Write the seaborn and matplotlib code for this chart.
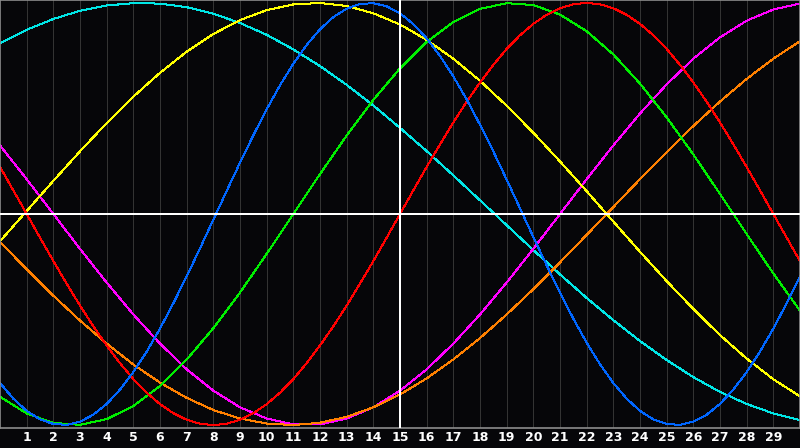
import pandas as pd
import seaborn as sns
import matplotlib.pyplot as plt

# --- data ---
days = list(range(0, 31))                     # whole days 0..30
half_days = [i / 2 for i in range(0, 61)]     # 0, 0.5, ... 30 for the faster cycles
tick_days = list(range(1, 30))

blue = [-0.801, -0.875, -0.933, -0.973, -0.995, -0.999, -0.984, -0.951, -0.900, -0.832,
        -0.749, -0.652, -0.543, -0.423, -0.296, -0.163, -0.027, 0.109, 0.243, 0.373,
        0.496, 0.610, 0.712, 0.801, 0.875, 0.933, 0.973, 0.995, 0.999, 0.984,
        0.951, 0.900, 0.832, 0.749, 0.652, 0.543, 0.423, 0.296, 0.163, 0.027,
        -0.109, -0.243, -0.373, -0.496, -0.610, -0.712, -0.801, -0.875, -0.933, -0.973,
        -0.995, -0.999, -0.984, -0.951, -0.900, -0.832, -0.749, -0.652, -0.543, -0.423,
        -0.296]
red = [0.223, 0.112, 0.0, -0.112, -0.223, -0.330, -0.434, -0.532, -0.623, -0.707,
       -0.782, -0.847, -0.901, -0.944, -0.975, -0.994, -1.0, -0.994, -0.975, -0.944,
       -0.901, -0.847, -0.782, -0.707, -0.623, -0.532, -0.434, -0.330, -0.223, -0.112,
       0.0, 0.112, 0.223, 0.330, 0.434, 0.532, 0.623, 0.707, 0.782, 0.847,
       0.901, 0.944, 0.975, 0.994, 1.0, 0.994, 0.975, 0.944, 0.901, 0.847,
       0.782, 0.707, 0.623, 0.532, 0.434, 0.330, 0.223, 0.112, 0.0, -0.112,
       -0.223]
green = [-0.866, -0.945, -0.990, -0.999, -0.972, -0.910, -0.815, -0.690, -0.541, -0.372,
         -0.189, 0.0, 0.189, 0.372, 0.541, 0.690, 0.815, 0.910, 0.972, 0.999,
         0.990, 0.945, 0.866, 0.756, 0.618, 0.458, 0.282, 0.095, -0.095, -0.282,
         -0.458]
magenta = [0.325, 0.165, 0.0, -0.165, -0.325, -0.476, -0.614, -0.736, -0.837, -0.916,
           -0.969, -0.997, -0.997, -0.969, -0.916, -0.837, -0.736, -0.614, -0.476, -0.325,
           -0.165, 0.0, 0.165, 0.325, 0.476, 0.614, 0.736, 0.837, 0.916, 0.969,
           0.997]
yellow = [-0.129, 0.014, 0.157, 0.297, 0.431, 0.556, 0.669, 0.769, 0.853, 0.919,
          0.966, 0.993, 1.000, 0.986, 0.951, 0.898, 0.825, 0.736, 0.631, 0.513,
          0.385, 0.249, 0.108, -0.036, -0.179, -0.318, -0.450, -0.574, -0.685, -0.783,
          -0.864]
orange = [-0.132, -0.262, -0.387, -0.505, -0.614, -0.713, -0.799, -0.871, -0.929, -0.969,
          -0.993, -1.000, -0.989, -0.961, -0.916, -0.855, -0.779, -0.689, -0.588, -0.476,
          -0.356, -0.229, -0.099, 0.033, 0.165, 0.293, 0.417, 0.533, 0.640, 0.736,
          0.819]
cyan = [0.809, 0.873, 0.924, 0.963, 0.988, 0.999, 0.997, 0.980, 0.949, 0.905,
        0.849, 0.780, 0.701, 0.612, 0.514, 0.408, 0.298, 0.183, 0.065, -0.053,
        -0.171, -0.286, -0.398, -0.503, -0.602, -0.692, -0.773, -0.843, -0.900, -0.945,
        -0.977]

series = {
    "cyan": (days, cyan),
    "magenta": (days, magenta),
    "orange": (days, orange),
    "yellow": (days, yellow),
    "green": (days, green),
    "red": (half_days, red),
    "blue": (half_days, blue),
}
palette = {
    "cyan": "#00e6e6",
    "magenta": "#ff00ff",
    "orange": "#ff8000",
    "yellow": "#ffff00",
    "green": "#00ee00",
    "red": "#ff0000",
    "blue": "#0066ff",
}

rows = []
for name, (xs, vals) in series.items():
    for d, v in zip(xs, vals):
        rows.append({"day": d, "value": v, "cycle": name})
df = pd.DataFrame(rows)

# --- figure ---
BG = "#060609"
fig = plt.figure(figsize=(8, 4.48), dpi=100, facecolor=BG)
ax = fig.add_axes([0, 20 / 448, 1, 428 / 448])
ax.set_facecolor(BG)

# vertical day grid (1 px)
for d in tick_days:
    ax.axvline(d, color="#333333", lw=0.72, zorder=0, antialiased=False)

sns.lineplot(data=df, x="day", y="value", hue="cycle", palette=palette,
             hue_order=list(series.keys()), legend=False, ax=ax,
             lw=0.72, antialiased=False, zorder=2)

# centre cross
ax.axhline(0, color="white", lw=1.1, zorder=3, antialiased=False)
ax.axvline(15, color="white", lw=1.1, zorder=3, antialiased=False)

ax.set_xlim(0, 30)
ax.set_ylim(-1.014, 1.014)
ax.set_xticks(tick_days)
ax.set_xticklabels([str(d) for d in tick_days], color="white",
                   fontweight="bold", fontsize=9)
ax.tick_params(axis="x", length=0, pad=2)
ax.set_yticks([])
ax.set_xlabel("")
ax.set_ylabel("")
for side in ["top", "left", "bottom", "right"]:
    ax.spines[side].set_color("#8c8c8c")
    ax.spines[side].set_linewidth(1.2)

fig.savefig("out.png", dpi=100, facecolor=BG)
